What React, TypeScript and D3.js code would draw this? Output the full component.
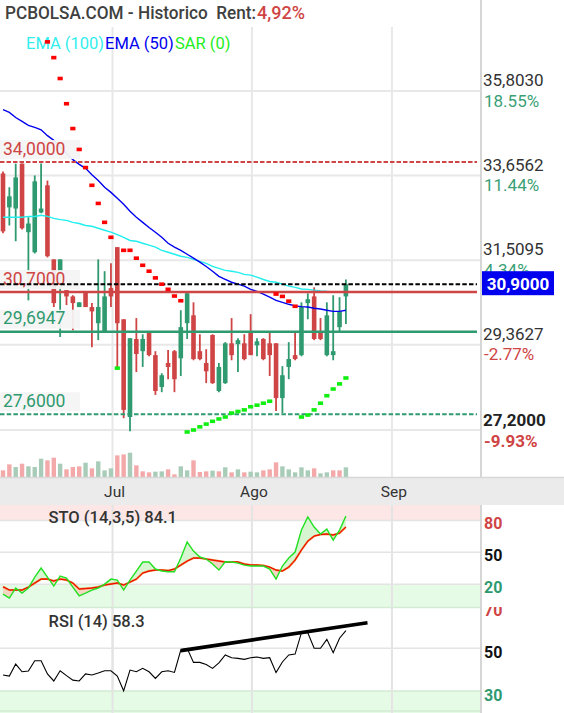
import React from "react";
import * as d3 from "d3";

// ---------- DATA ----------
const opens = [33.71, 32.85, 32.82, 33.96, 32.22, 31.71, 32.72, 33.41, 31.53, 31.13, 30.75, 30.59, 30.32, 30.70, 30.32, 29.91, 29.71, 30.80, 31.84, 30.01, 27.53, 29.51, 29.20, 29.68, 29.10, 28.29, 28.90, 29.20, 29.02, 29.91, 30.11, 29.20, 28.90, 29.61, 28.19, 28.39, 29.40, 29.38, 29.40, 29.68, 29.35, 29.51, 29.40, 29.40, 28.01, 28.80, 29.10, 29.10, 30.42, 30.59, 29.68, 29.10, 29.10, 29.81, 30.59];
const highs = [33.76, 33.36, 33.96, 33.96, 32.60, 33.66, 33.96, 33.53, 31.53, 31.53, 30.75, 30.62, 30.44, 30.70, 30.42, 31.53, 31.23, 31.43, 31.84, 30.01, 29.53, 30.04, 29.63, 29.68, 29.20, 28.64, 29.23, 29.23, 30.24, 30.70, 30.44, 29.63, 29.25, 29.63, 28.90, 29.43, 30.04, 29.53, 29.63, 30.14, 29.53, 29.53, 29.68, 29.40, 28.82, 29.43, 29.68, 30.44, 30.67, 30.82, 30.04, 30.44, 30.62, 30.57, 31.02];
const lows = [32.19, 32.39, 31.99, 32.29, 30.49, 31.68, 32.70, 31.58, 30.32, 29.56, 30.37, 29.73, 30.32, 30.32, 29.30, 29.48, 29.71, 30.32, 28.77, 27.50, 27.17, 28.67, 28.80, 29.07, 28.09, 28.16, 28.49, 28.16, 28.57, 29.51, 28.97, 28.97, 28.39, 28.37, 28.16, 28.37, 28.97, 28.67, 28.97, 29.10, 29.07, 28.97, 28.57, 27.68, 27.63, 28.49, 28.97, 29.07, 30.01, 29.48, 29.48, 29.07, 28.97, 29.71, 29.89];
const closes = [32.24, 33.13, 33.61, 32.32, 32.44, 33.51, 32.82, 31.61, 30.42, 31.53, 30.59, 30.42, 30.44, 30.32, 30.21, 30.32, 30.59, 30.59, 29.91, 27.71, 29.53, 29.13, 29.51, 29.10, 28.19, 28.59, 28.80, 28.49, 29.81, 30.67, 29.00, 29.00, 28.69, 28.39, 28.80, 29.40, 29.10, 29.48, 29.00, 29.10, 29.45, 29.00, 29.10, 28.01, 28.59, 29.00, 29.00, 30.32, 30.52, 29.51, 29.51, 30.11, 29.20, 30.21, 30.90];

const volumes = [20, 38, 30, 40, 32, 30, 55, 50, 58, 40, 23, 30, 32, 43, 26, 47, 20, 26, 65, 68, 73, 35, 17, 14, 16, 17, 23, 8, 32, 20, 50, 15, 17, 19, 17, 29, 14, 23, 14, 16, 14, 20, 23, 44, 32, 23, 14, 29, 20, 26, 11, 14, 20, 20, 29];
const volumeDir = "ddudu uuddu dddud uuudd udddu udduu dddud udud uu dddu uuuud uudd u".replace(/ /g, "").split("");

const ema50 = [35.33, 35.26, 35.13, 35.03, 34.93, 34.88, 34.82, 34.67, 34.55, 34.39, 34.22, 34.06, 33.94, 33.84, 33.68, 33.53, 33.36, 33.23, 33.08, 32.93, 32.75, 32.60, 32.47, 32.34, 32.22, 32.09, 31.94, 31.84, 31.76, 31.66, 31.56, 31.46, 31.35, 31.23, 31.10, 31.02, 30.95, 30.90, 30.85, 30.77, 30.72, 30.65, 30.57, 30.49, 30.44, 30.39, 30.35, 30.33, 30.32, 30.29, 30.27, 30.24, 30.21, 30.21, 30.24];
const ema100 = [32.60, 32.60, 32.60, 32.60, 32.62, 32.62, 32.65, 32.62, 32.57, 32.54, 32.52, 32.47, 32.44, 32.39, 32.37, 32.32, 32.27, 32.22, 32.16, 32.09, 32.01, 31.99, 31.94, 31.89, 31.84, 31.76, 31.71, 31.66, 31.61, 31.58, 31.53, 31.48, 31.43, 31.35, 31.30, 31.25, 31.23, 31.20, 31.15, 31.13, 31.08, 31.02, 30.97, 30.95, 30.90, 30.85, 30.82, 30.78, 30.77, 30.75, 30.73, 30.72, null, null, null];

const sarValues = [null, null, null, null, null, null, null, 37.05, 36.65, 36.12, 35.48, 34.85, 34.32, 33.86, 33.41, 32.95, 32.47, 32.09, 28.77, 31.76, 31.76, 31.56, 31.38, 31.23, 31.06, 30.90, 30.77, 30.60, 30.48, 27.15, 27.20, 27.28, 27.35, 27.42, 27.48, 27.53, 27.63, 27.67, 27.71, 27.79, 27.83, 27.88, 27.93, 30.65, 30.59, 30.47, 30.34, 27.53, 27.58, 27.71, 27.88, 28.07, 28.24, 28.37, 28.52];
const sarSide = "-------SSSSSSSSSSSLSSSSSSSSSSLLLLLLLLLLLLLLSSSSLLLLLLLL".split("");

const stoK = [10.7, 6.9, 16.4, 11.6, 16.4, 26.7, 35.2, 26.7, 18.2, 27.7, 25.8, 17.3, 9.1, 11.6, 14.5, 16.4, 20.1, 24.8, 23.9, 14.5, 23.9, 32.4, 40.9, 40.9, 34.3, 32.4, 31.7, 31.7, 44.6, 59.7, 51.2, 45.6, 43.7, 39.0, 33.3, 41.1, 40.9, 39.9, 38.0, 37.1, 37.1, 37.1, 34.3, 24.8, 37.1, 44.6, 50.3, 71.0, 83.3, 73.8, 67.2, 71.9, 61.6, 71.0, 84.1];
const stoD = [17.6, 14.5, 14.5, 14.5, 17.3, 21.1, 24.8, 24.8, 23.0, 24.8, 23.9, 21.1, 15.4, 15.9, 16.4, 17.3, 19.2, 20.1, 21.1, 19.2, 22.0, 24.8, 30.5, 32.4, 33.3, 33.3, 32.8, 34.3, 38.0, 41.8, 44.6, 44.6, 43.7, 42.7, 41.8, 40.9, 40.9, 40.9, 39.0, 38.0, 38.0, 37.6, 36.1, 33.3, 32.4, 36.1, 42.7, 52.2, 60.6, 65.3, 66.8, 67.2, 66.3, 68.2, 73.8];
const rsi = [37.5, 37.0, 42.6, 39.0, 39.4, 44.2, 44.2, 38.0, 34.7, 39.5, 37.2, 35.1, 34.7, 38.0, 37.5, 38.4, 39.5, 39.5, 37.0, 30.1, 39.8, 39.0, 40.6, 39.0, 35.9, 39.0, 39.5, 38.7, 49.2, 50.0, 43.4, 43.4, 42.4, 40.6, 43.2, 46.9, 45.6, 45.3, 44.8, 45.6, 45.9, 45.3, 45.6, 38.6, 43.6, 46.9, 47.3, 57.3, 57.3, 50.0, 50.0, 54.2, 47.9, 54.7, 58.3];
const rsiTrend = [[28, 48.9], [57.4, 62.0]];

const priceTicks = [35.803, 33.6562, 31.5095, 29.3627, 27.2];
const pctBase = 30.2;
const lastPrice = 30.9;
const levelPrices = [34.0, 30.7, 29.6947, 27.6];
const monthLabels = ["Jul", "Ago", "Sep"];
const monthPos = [17.25, 39.2, 61.25];
const stoTicks = [80, 50, 20];
const rsiTicks = [70, 50, 30];

// ---------- STYLE ----------
const GREEN = "#2f9a6f";
const RED = "#cf4444";
const GRID = "#e8e8e8";
const FONT = "Roboto, sans-serif";
const PLOT_R = 480;

const fmtP = (v: number) => v.toFixed(4).replace(".", ",");
const fmtPct = (v: number) => ((v / pctBase - 1) * 100).toFixed(2) + "%";

export default function App() {
  const x = d3.scaleLinear().domain([0, 54]).range([3, 345.9]);
  const y = d3.scaleLinear().domain([27.2, 35.803]).range([430, 91]);
  const yv = d3.scaleLinear().domain([0, 73]).range([477, 452.7]);
  const yS = d3.scaleLinear().domain([20, 80]).range([584.2, 520.5]);
  const yR = d3.scaleLinear().domain([30, 50]).range([691, 648.3]);
  const idx = d3.range(opens.length);

  const emaLine = (arr: (number | null)[]) =>
    d3.line<number>().defined((i) => arr[i] != null).x((i) => x(i)).y((i) => y(arr[i] as number))(idx) || "";

  const kLine = d3.line<number>().x((i) => x(i)).y((i) => yS(stoK[i]))(idx) || "";
  const dLine = d3.line<number>().x((i) => x(i)).y((i) => yS(stoD[i]))(idx) || "";
  const between = d3.area<number>().x((i) => x(i)).y0((i) => yS(stoD[i])).y1((i) => yS(stoK[i]))(idx) || "";
  const aboveD = d3.area<number>().x((i) => x(i)).y0(505).y1((i) => yS(stoD[i]))(idx) || "";
  const belowD = d3.area<number>().x((i) => x(i)).y0(607).y1((i) => yS(stoD[i]))(idx) || "";
  const rsiLine = d3.line<number>().x((i) => x(i)).y((i) => yR(rsi[i]))(idx) || "";

  const levelStyles = [
    { c: RED, dash: "4.5,2", w: 2 },
    { c: RED, dash: "", w: 2.5 },
    { c: GREEN, dash: "", w: 2.5 },
    { c: GREEN, dash: "4.5,2.2", w: 2 },
  ];

  return (
    <svg width={564} height={713} style={{ position: "absolute", left: 0, top: 0, background: "#fff" }} fontFamily={FONT}>
      <defs>
        <clipPath id="mainClip"><rect x={0} y={27} width={PLOT_R} height={450} /></clipPath>
        <clipPath id="aboveD"><path d={aboveD} /></clipPath>
        <clipPath id="belowD"><path d={belowD} /></clipPath>
        <clipPath id="rsiClip"><rect x={0} y={607} width={564} height={106} /></clipPath>
      </defs>
      <rect x={0} y={0} width={564} height={713} fill="#fff" />

      {/* header */}
      <text x={5} y={18.5} fontSize={17.5} fontWeight={500} fill="#404040" style={{ whiteSpace: "pre" }} textLength={251} lengthAdjust="spacingAndGlyphs">
        {"PCBOLSA.COM - Historico  Rent:"}
      </text>
      <text x={257} y={18.5} fontSize={17.5} fontWeight={500} fill={RED} textLength={48} lengthAdjust="spacingAndGlyphs">4,92%</text>

      {/* main panel grid */}
      {priceTicks.map((t, i) => (
        <line key={"hg" + i} x1={0} x2={PLOT_R} y1={y(t)} y2={y(t)} stroke={GRID} strokeWidth={2} />
      ))}
      {monthPos.map((m, i) => (
        <line key={"vg" + i} x1={x(m)} x2={x(m)} y1={27} y2={477} stroke={GRID} strokeWidth={2} />
      ))}

      <text y={48.5} fontSize={16.5}>
        <tspan x={26} fill="#33eeee">EMA (100)</tspan>
        <tspan x={105} fill="#0000ee">EMA (50)</tspan>
        <tspan x={175} fill="#22ee22">SAR (0)</tspan>
      </text>

      <g clipPath="url(#mainClip)">
        {/* volume */}
        {volumes.map((v, i) => (
          <rect key={"v" + i} x={x(i) - 2.2} y={yv(v)} width={4.4} height={477 - yv(v)} fill={volumeDir[i] === "u" ? "#a9ccb9" : "#f3a9a9"} />
        ))}
        {/* candles */}
        {idx.map((i) => {
          const o = opens[i], c = closes[i];
          const col = c >= o ? GREEN : RED;
          const top = y(Math.max(o, c));
          const bot = y(Math.min(o, c));
          return (
            <g key={"c" + i}>
              <line x1={x(i)} x2={x(i)} y1={y(highs[i])} y2={y(lows[i])} stroke={col} strokeWidth={1.8} />
              <rect x={x(i) - 2.3} y={top} width={4.6} height={Math.max(bot - top, 1.6)} fill={col} />
            </g>
          );
        })}
        {/* EMAs */}
        <path d={emaLine(ema100)} fill="none" stroke="#22eeee" strokeWidth={1.4} />
        <path d={emaLine(ema50)} fill="none" stroke="#0000ee" strokeWidth={1.4} />

        {/* level lines */}
        {levelPrices.map((p, i) => (
          <line key={"lv" + i} x1={0} x2={PLOT_R - 3} y1={y(p)} y2={y(p)} stroke={levelStyles[i].c} strokeWidth={levelStyles[i].w} strokeDasharray={levelStyles[i].dash} />
        ))}
        {/* level label boxes */}
        {levelPrices.map((p, i) => (
          <g key={"lb" + i}>
            <rect x={0} y={y(p) - 22} width={80} height={19} fill="#f4f4f4" opacity={0.95} />
            <text x={3} y={y(p) - 7.5} fontSize={17.5} fill={levelStyles[i].c}>{fmtP(p)}</text>
          </g>
        ))}
        {/* last price dashed */}
        <line x1={0} x2={PLOT_R - 3} y1={y(lastPrice)} y2={y(lastPrice)} stroke="#000" strokeWidth={2} strokeDasharray="4.5,2.2" />

        {/* SAR */}
        {sarValues.map((s, i) =>
          s == null ? null : (
            <rect key={"s" + i} x={x(i) - 2.6} y={y(s) - 1.8} width={5.2} height={3.6} fill={sarSide[i] === "S" ? "#ff0000" : "#11ee11"} />
          )
        )}
      </g>

      {/* right axis */}
      <line x1={PLOT_R + 1} x2={PLOT_R + 1} y1={0} y2={713} stroke="#d6d6d6" strokeWidth={2} />
      {priceTicks.map((t, i) => {
        const last = i === priceTicks.length - 1;
        const pct = t / pctBase - 1;
        return (
          <g key={"pt" + i}>
            <text x={483} y={y(t) - (last ? 4 : 5)} fontSize={17} fill={last ? "#222" : "#333"} fontWeight={last ? 700 : 400}>{fmtP(t)}</text>
            <text x={484} y={y(t) + (last ? 16.5 : 15.5)} fontSize={17} fill={pct >= 0 ? "#3a9f75" : RED} fontWeight={last ? 700 : 400}>{fmtPct(t)}</text>
          </g>
        );
      })}
      <rect x={482} y={y(lastPrice) - 13} width={72} height={24} fill="#0000ee" />
      <text x={518} y={y(lastPrice) + 5.5} fontSize={17} fontWeight={700} fill="#fff" textAnchor="middle">{fmtP(lastPrice)}</text>

      {/* date band */}
      <rect x={0} y={477} width={564} height={28} fill="#ebebeb" />
      <line x1={0} x2={564} y1={477.5} y2={477.5} stroke="#d8d8d8" strokeWidth={1.5} />
      {monthLabels.map((m, i) => (
        <text key={"ml" + i} x={x(monthPos[i]) + 2} y={497} fontSize={15.5} fill="#333" textAnchor="middle">{m}</text>
      ))}

      {/* STO panel */}
      <rect x={0} y={505} width={PLOT_R} height={yS(80) - 505} fill="#fde6e6" />
      <rect x={0} y={yS(20)} width={PLOT_R} height={607 - yS(20)} fill="#e6fbe6" />
      {stoTicks.map((t, i) => (
        <line key={"sg" + i} x1={0} x2={PLOT_R} y1={yS(t)} y2={yS(t)} stroke="#e4e4e4" strokeWidth={1.5} />
      ))}
      {monthPos.map((m, i) => (
        <line key={"svg" + i} x1={x(m)} x2={x(m)} y1={505} y2={713} stroke="#e4e4e4" strokeWidth={2} />
      ))}
      <path d={between} fill="#d6f5d0" clipPath="url(#aboveD)" />
      <path d={between} fill="#f3d6c2" clipPath="url(#belowD)" />
      <path d={dLine} fill="none" stroke="#f07020" strokeWidth={2} />
      <path d={dLine} fill="none" stroke="#ee0000" strokeWidth={1} />
      <path d={kLine} fill="none" stroke="#22e022" strokeWidth={1.4} />
      <text x={48.5} y={522.5} fontSize={16.5} fontWeight={500} fill="#333">STO (14,3,5) 84.1</text>
      {stoTicks.map((t, i) => (
        <text key={"sl" + i} x={484} y={yS(t) + 8.5} fontSize={16} fontWeight={700} fill={i === 0 ? RED : i === 1 ? "#111" : GREEN}>{t}</text>
      ))}

      {/* RSI panel */}
      <line x1={0} x2={PLOT_R} y1={607.5} y2={607.5} stroke="#d2ebd2" strokeWidth={1.5} />
      <rect x={0} y={yR(30)} width={PLOT_R} height={713 - yR(30)} fill="#e6fbe6" />
      <line x1={0} x2={PLOT_R} y1={yR(50)} y2={yR(50)} stroke="#e4e4e4" strokeWidth={1.5} />
      <line x1={0} x2={PLOT_R} y1={yR(30)} y2={yR(30)} stroke="#d2ebd2" strokeWidth={1.5} />
      <line x1={0} x2={PLOT_R} y1={711} y2={711} stroke="#d2ebd2" strokeWidth={1.5} />
      {monthPos.map((m, i) => (
        <line key={"rvg" + i} x1={x(m)} x2={x(m)} y1={608} y2={713} stroke="#e4e4e4" strokeWidth={2} />
      ))}
      <path d={rsiLine} fill="none" stroke="#000" strokeWidth={1.1} />
      <line x1={x(rsiTrend[0][0])} y1={yR(rsiTrend[0][1])} x2={x(rsiTrend[1][0])} y2={yR(rsiTrend[1][1])} stroke="#000" strokeWidth={3.6} />
      <text x={48.5} y={626.5} fontSize={16.5} fontWeight={500} fill="#333">RSI (14) 58.3</text>
      <g clipPath="url(#rsiClip)">
        {rsiTicks.map((t, i) => (
          <text key={"rl" + i} x={484} y={yR(t) + 10} fontSize={16} fontWeight={700} fill={i === 0 ? RED : i === 1 ? "#111" : GREEN}>{t}</text>
        ))}
      </g>
      <line x1={PLOT_R + 1} x2={PLOT_R + 1} y1={505} y2={713} stroke="#d6d6d6" strokeWidth={2} />
    </svg>
  );
}
